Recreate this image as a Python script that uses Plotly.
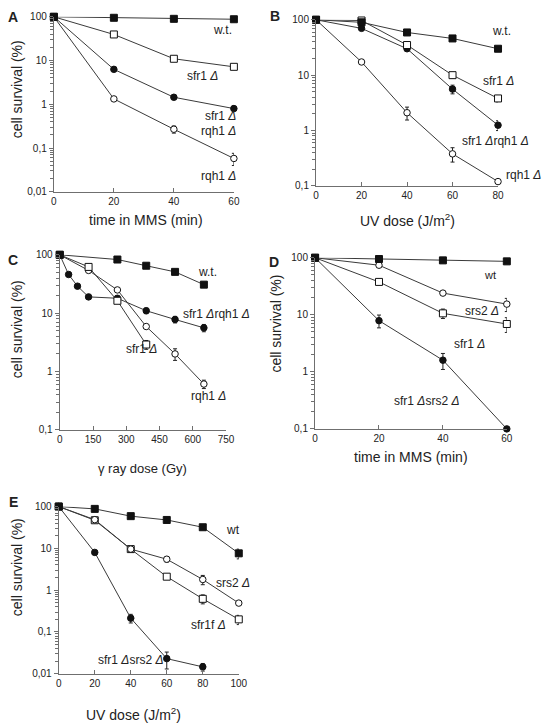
import plotly.graph_objects as go

W, H = 553, 724

# ---------------- data ----------------
# Panel A: time in MMS (min)
A_x = [0, 20, 40, 60]
A_wt = [100, 95, 90, 88]
A_sfr1 = [100, 39.5, 11, 7.2]
A_sfr1_err = [0, 0, 0, 0.8]
A_double = [100, 6.3, 1.45, 0.8]
A_double_err = [0, 0, 0, 0.12]
A_rqh1 = [100, 1.33, 0.27, 0.058]
A_rqh1_err = [0, 0, 0.05, 0.018]

# Panel B: UV dose (J/m2)
B_x = [0, 20, 40, 60, 80]
B_wt = [100, 90, 59, 46, 30]
B_sfr1 = [100, 97, 35, 10, 3.8]
B_sfr1_err = [0, 0, 0, 1.2, 0.5]
B_double = [100, 70, 30, 5.6, 1.25]
B_double_err = [0, 0, 0, 1.0, 0.25]
B_rqh1 = [100, 17.3, 2.1, 0.38, 0.12]
B_rqh1_err = [0, 0, 0.55, 0.11, 0.01]

# Panel C: gamma ray dose (Gy)
C_x_wt = [0, 260, 390, 520, 650]
C_wt = [100, 83, 65, 51, 30.8]
C_x_sfr1 = [0, 130, 260, 390]
C_sfr1 = [100, 62, 16.3, 2.9]
C_sfr1_err = [0, 0, 0, 0.5]
C_x_rqh1 = [0, 130, 260, 390, 520, 650]
C_rqh1 = [100, 54, 25, 5.9, 2.0, 0.61]
C_rqh1_err = [0, 0, 0, 0, 0.45, 0.1]
C_x_double = [0, 40, 80, 130, 260, 390, 520, 650]
C_double = [100, 46, 29, 19, 18, 11, 7.8, 5.6]
C_double_err = [0, 0, 0, 0, 0, 1.2, 1.0, 0.8]

# Panel D: time in MMS (min)
D_x = [0, 20, 40, 60]
D_wt = [100, 95, 90, 86.5]
D_srs2 = [100, 74, 24, 15.4]
D_srs2_err = [0, 0, 0, 4]
D_sfr1 = [100, 37.7, 10.6, 6.9]
D_sfr1_err = [0, 0, 2, 2]
D_double = [100, 7.9, 1.6, 0.1]
D_double_err = [0, 2, 0.5, 0]

# Panel E: UV dose (J/m2)
E_x = [0, 20, 40, 60, 80, 100]
E_wt = [100, 88, 59, 47.8, 32, 7.6]
E_wt_err = [0, 0, 0, 0, 0, 2]
E_srs2 = [100, 48.6, 9.6, 5.5, 1.8, 0.49]
E_srs2_err = [0, 0, 0, 0.8, 0.45, 0.06]
E_sfr1 = [100, 47, 9.6, 2.1, 0.62, 0.2]
E_sfr1_err = [0, 0, 0, 0, 0.15, 0.05]
E_x_double = [0, 20, 40, 60, 80]
E_double = [100, 8.0, 0.214, 0.023, 0.0146]
E_double_err = [0, 0, 0.05, 0.01, 0.003]

Y_TICKVALS = [0.01, 0.1, 1, 10, 100]
Y_TICKTEXT = ["0,01", "0,1", "1", "10", "100"]

FONT = "Liberation Sans, Arial, sans-serif"
LINE_C = "#3a3a3a"
AXIS_C = "#6f6f6f"

# ---------------- figure ----------------
fig = go.Figure()

def fx(x):
    return x / W

def fy(y):
    return 1 - y / H

# panel pixel boxes: (left, right, top, bottom), x range, x ticks, y log range
panels = {
    "A": dict(box=(52, 236, 11, 189), xr=[0, 60], xt=[0, 20, 40, 60], yr=[-2, 2]),
    "B": dict(box=(320, 506, 14, 183), xr=[0, 80], xt=[0, 20, 40, 60, 80], yr=[-1, 2]),
    "C": dict(box=(58, 228, 253, 431), xr=[0, 750], xt=[0, 150, 300, 450, 600, 750], yr=[-1, 2]),
    "D": dict(box=(319, 515, 256, 430), xr=[0, 60], xt=[0, 20, 40, 60], yr=[-1, 2]),
    "E": dict(box=(57, 241, 509, 679), xr=[0, 100], xt=[0, 20, 40, 60, 80, 100], yr=[-2, 2]),
}

layout = {}
for i, (name, p) in enumerate(panels.items(), start=1):
    l, r, t, b = p["box"]
    xa = "xaxis" if i == 1 else f"xaxis{i}"
    ya = "yaxis" if i == 1 else f"yaxis{i}"
    lo = int(p["yr"][0])
    minor_vals = [m * 10 ** k for k in range(lo, 2) for m in range(2, 10)]
    layout[xa] = dict(
        domain=[fx(l), fx(r)], range=p["xr"], anchor=f"y{i}" if i > 1 else "y",
        tickmode="array", tickvals=p["xt"], ticks="inside", ticklen=4,
        tickcolor=AXIS_C, showline=True, linecolor=AXIS_C, linewidth=1.2,
        showgrid=False, zeroline=False,
        tickfont=dict(family=FONT, size=10, color="#222"),
    )
    layout[ya] = dict(
        domain=[fy(b), fy(t)], type="log", range=p["yr"], anchor=f"x{i}" if i > 1 else "x",
        tickmode="array", tickvals=[v for v in Y_TICKVALS if v >= 10 ** lo],
        ticktext=[tt for v, tt in zip(Y_TICKVALS, Y_TICKTEXT) if v >= 10 ** lo],
        ticks="outside", ticklen=4, tickcolor=AXIS_C,
        minor=dict(tickmode="array", tickvals=minor_vals, ticks="outside", ticklen=2.5,
                   tickcolor=AXIS_C, showgrid=False),
        showline=True, linecolor=AXIS_C, linewidth=1.2,
        showgrid=False, zeroline=False,
        tickfont=dict(family=FONT, size=10, color="#222"),
    )

MARKERS = {
    "fsq": dict(symbol="square", size=7, color="#111", line=dict(color="#111", width=1)),
    "osq": dict(symbol="square", size=7, color="white", line=dict(color="#111", width=1)),
    "fci": dict(symbol="circle", size=6.5, color="#111", line=dict(color="#111", width=1)),
    "oci": dict(symbol="circle", size=6.5, color="white", line=dict(color="#111", width=1)),
}

def add(idx, x, y, mk, err=None):
    sfx = "" if idx == 1 else str(idx)
    ey = None
    if err is not None:
        ey = dict(type="data", array=err, visible=True, color="#222", thickness=1, width=2)
    fig.add_trace(go.Scatter(
        x=x, y=y, mode="lines+markers", xaxis="x" + sfx, yaxis="y" + sfx,
        line=dict(color=LINE_C, width=1), marker=MARKERS[mk], error_y=ey,
        cliponaxis=False, showlegend=False, hoverinfo="x+y",
    ))

# Panel A
add(1, A_x, A_rqh1, "oci", A_rqh1_err)
add(1, A_x, A_double, "fci", A_double_err)
add(1, A_x, A_sfr1, "osq", A_sfr1_err)
add(1, A_x, A_wt, "fsq")
# Panel B
add(2, B_x, B_rqh1, "oci", B_rqh1_err)
add(2, B_x, B_double, "fci", B_double_err)
add(2, B_x, B_sfr1, "osq", B_sfr1_err)
add(2, B_x, B_wt, "fsq")
# Panel C
add(3, C_x_rqh1, C_rqh1, "oci", C_rqh1_err)
add(3, C_x_double, C_double, "fci", C_double_err)
add(3, C_x_sfr1, C_sfr1, "osq", C_sfr1_err)
add(3, C_x_wt, C_wt, "fsq")
# Panel D
add(4, D_x, D_double, "fci", D_double_err)
add(4, D_x, D_sfr1, "osq", D_sfr1_err)
add(4, D_x, D_srs2, "oci", D_srs2_err)
add(4, D_x, D_wt, "fsq")
# Panel E
add(5, E_x_double, E_double, "fci", E_double_err)
add(5, E_x, E_sfr1, "osq", E_sfr1_err)
add(5, E_x, E_srs2, "oci", E_srs2_err)
add(5, E_x, E_wt, "fsq", E_wt_err)

D = "<i>Δ</i>"
annos = []

def text(x, y, s, size=12, xanchor="center", angle=0, bold=False):
    annos.append(dict(
        x=fx(x), y=fy(y), xref="paper", yref="paper", text=("<b>%s</b>" % s) if bold else s,
        showarrow=False, xanchor=xanchor, yanchor="middle", textangle=angle,
        font=dict(family=FONT, size=size, color="#222"),
    ))

# panel letters
for L, (x, y) in {"A": (10.5, 11.5), "B": (278, 10), "C": (10.5, 258), "D": (277.5, 260), "E": (10.5, 504)}.items():
    text(x, y, L, size=14, bold=True)

# y axis titles
for (x, y) in [(14, 85), (14, 329), (279, 323), (14, 571)]:
    text(x, y, "cell survival (%)", size=14, angle=-90)

# x axis titles
text(146, 218, "time in MMS (min)", size=14)
text(413, 218, "UV dose (J/m<sup>2</sup>)", size=14)
text(143, 470, "γ ray dose (Gy)", size=13)
text(417, 459, "time in MMS (min)", size=14)
text(133, 720, "UV dose (J/m<sup>2</sup>)", size=14)

# curve labels
text(236, 24, "w.t.", xanchor="right")
text(222, 71, "sfr1 " + D, xanchor="right")
text(240, 112, "sfr1 " + D, xanchor="right")
text(240, 127, "rqh1 " + D, xanchor="right")
text(240, 173, "rqh1 " + D, xanchor="right")

text(510, 25, "w.t.")
text(507, 76, "sfr1 " + D)
text(503, 137, "sfr1 " + D + "rqh1 " + D)
text(532, 172, "rqh1 " + D)

text(209, 270, "w.t.")
text(218, 313, "sfr1 " + D + "rqh1 " + D)
text(142, 349, "sfr1 " + D)
text(210, 397, "rqh1 " + D)

text(498, 274, "wt", size=11)
text(490, 310, "srs2 " + D)
text(477, 344, "sfr1 " + D)
text(433, 402, "sfr1 " + D + "srs2 " + D)

text(235, 533, "wt")
text(235, 587, "srs2 " + D)
text(210, 629, "sfr1f " + D)
text(130, 665, "sfr1 " + D + "srs2 " + D)

fig.update_layout(
    width=W, height=H, margin=dict(l=0, r=0, t=0, b=0),
    paper_bgcolor="white", plot_bgcolor="white", showlegend=False,
    annotations=annos, **layout,
)

fig.write_html("out.html")
